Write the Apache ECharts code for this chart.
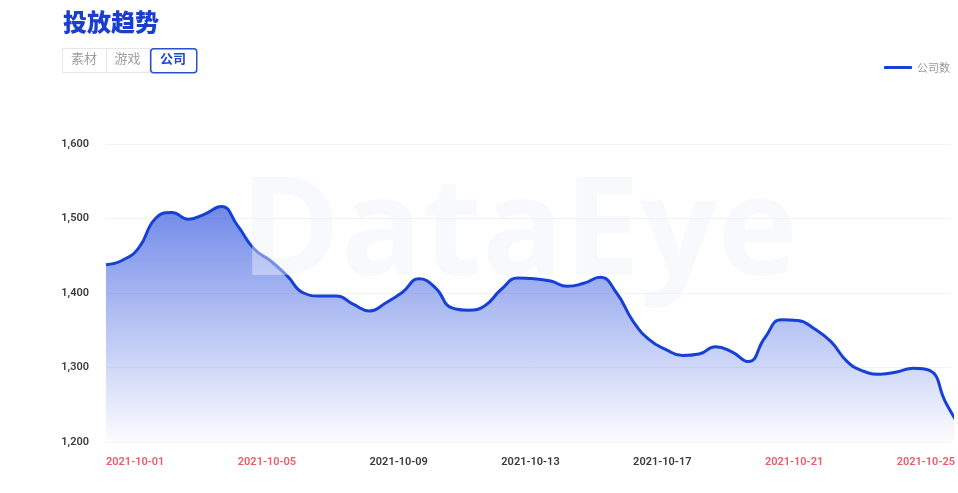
<!DOCTYPE html>
<html>
<head>
<meta charset="utf-8">
<script src="https://cdn.jsdelivr.net/npm/echarts@6/dist/echarts.min.js"></script>
<style>
html,body{margin:0;padding:0;background:#fff;}
#chart{width:958px;height:493px;}
</style>
</head>
<body>
<div id="chart"></div>
<script>
// x values: days since 2021-10-01 (half-day samples)
const dayOffsets = [0,0.5,1,1.5,2,2.5,3,3.5,4,4.5,5,5.5,6,6.5,7,7.5,8,8.5,9,9.5,10,10.5,11,11.5,12,12.5,13,13.5,14,14.5,15,15.5,16,16.5,17,17.5,18,18.5,19,19.5,20,20.5,21,21.5,22,22.5,23,23.5,24,24.5,25,25.5,26];
const companyCounts = [1438,1444,1461,1500,1508,1499,1506,1516,1490,1459,1443,1423,1400,1396,1396,1385,1376,1387,1401,1419,1407,1380,1377,1383,1405,1420,1419,1416,1409,1413,1421,1400,1362,1337,1324,1316,1318,1328,1321,1308,1340,1364,1363,1352,1335,1308,1295,1291,1294,1299,1296,1252,1215];
const yTicks = [1200,1300,1400,1500,1600];
const redDates = ['2021-10-01','2021-10-05','2021-10-21','2021-10-25'];
const tabs = ['素材','游戏','公司'];
const seriesName = '公司数';

function dateLabel(v){
  const d = Math.round(1 + v);
  return '2021-10-' + (d < 10 ? '0' + d : '' + d);
}

const chart = echarts.init(document.getElementById('chart'), null, {renderer:'canvas'});
const seriesData = dayOffsets.map((d,i)=>[d, companyCounts[i]]);

const tabGraphics = [];
const tabX = [62, 106, 150];
const tabW = [44, 43, 46];
tabs.forEach((t,i)=>{
  const sel = i === 2;
  tabGraphics.push({
    type:'rect', left: tabX[i], top: 48, z: 10,
    shape:{width: tabW[i], height: 24, r: sel ? 3 : 0},
    style:{fill:'#fff', stroke: sel ? '#2a4fd0' : '#e6e6e6', lineWidth: sel ? 1.5 : 1}
  });
  tabGraphics.push({
    type:'text', z: 11,
    left: tabX[i] + tabW[i]/2 - 13, top: 52,
    style:{text: t, fill: sel ? '#1f45cc' : '#a0a0a0', font: (sel ? '600 ' : '400 ') + '13px "Noto Sans CJK SC"'}
  });
});

const labelFont = {fontSize: 11, fontWeight: 600, fontFamily: 'Roboto'};

chart.setOption({
  animation:false,
  backgroundColor:'#fff',
  title:{
    text:'投放趋势', left: 58, top: 5,
    textStyle:{color:'#1a3fcf', fontSize: 24, fontWeight: 900, fontFamily:'"Noto Sans CJK SC"'}
  },
  legend:{
    right: 3, top: 57,
    icon:'roundRect', itemWidth: 28, itemHeight: 3, itemGap: 10,
    textStyle:{color:'#9a9a9a', fontSize: 11, fontFamily:'"Noto Sans CJK SC"'},
    data:[seriesName]
  },
  graphic: tabGraphics.concat([{
    type:'text', left: 240, top: 168, z: 100, silent: true,
    style:{text:'DataEye', fill:'rgba(238,242,250,0.45)', font:'bold 136px "Open Sans"'}
  }]),
  grid:{left:106, right:4, top:144, bottom:51},
  xAxis:{
    type:'value', min:0, max:25.65, interval:4,
    axisLine:{show:false}, axisTick:{show:false}, splitLine:{show:false},
    axisLabel:{
      showMaxLabel:false, align:'left', margin: 15,
      formatter: v => {
        const s = dateLabel(v);
        return (redDates.indexOf(s) >= 0 ? '{r|' : '{d|') + s + '}';
      },
      rich:{
        r: Object.assign({color:'#ec5b66'}, labelFont),
        d: Object.assign({color:'#3a3a3a'}, labelFont)
      }
    }
  },
  yAxis:{
    type:'value', min: yTicks[0], max: yTicks[yTicks.length-1], interval: 100,
    axisLine:{show:false}, axisTick:{show:false},
    splitLine:{lineStyle:{color:'#f3f3f3', width:1}},
    axisLabel:{
      margin: 17, fontSize: 11, fontWeight: 600, color:'#3c3c3c', fontFamily:'Roboto',
      formatter: v => v.toLocaleString('en-US')
    }
  },
  series:[{
    name: seriesName, type:'line', smooth:0.5, showSymbol:false, clip:true,
    data: seriesData,
    lineStyle:{color:'#1640d6', width:3},
    itemStyle:{color:'#1640d6'},
    areaStyle:{
      color:{type:'linear', x:0, y:0, x2:0, y2:1, colorStops:[
        {offset:0, color:'rgba(30,70,220,0.9)'},
        {offset:1, color:'rgba(30,70,220,0.02)'}
      ]}
    }
  }]
});
</script>
</body>
</html>
